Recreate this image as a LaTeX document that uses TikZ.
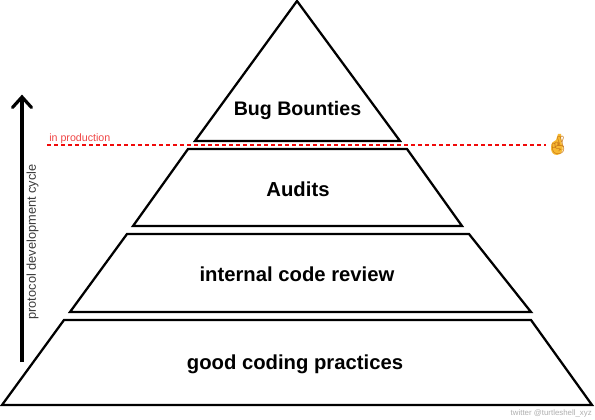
\documentclass[tikz,border=0pt]{standalone}
\usepackage{fontspec}
\setmainfont{Liberation Sans}
\newfontfamily\emojifont{Noto Emoji}
\definecolor{redline}{RGB}{240,10,10}
\definecolor{redtext}{RGB}{240,70,70}
\definecolor{goldfinger}{RGB}{247,185,50}
\definecolor{goldedge}{RGB}{205,125,25}
\definecolor{graytext}{RGB}{175,175,175}
\definecolor{axistext}{RGB}{60,60,60}
\tikzset{
  x=0.75pt,y=-0.75pt,
  tier/.style={draw=black,line width=1.7pt,line join=miter,miter limit=10},
  tierlabel/.style={inner sep=0pt,font=\fontsize{15.2}{18}\selectfont\bfseries,text=black},
  axisarrow/.style={draw=black,line width=2.4pt},
}
\begin{document}
\begin{tikzpicture}
\useasboundingbox (0,0) rectangle (595,420);
\fill[white] (0,0) rectangle (595,420);
\draw[tier] (297,1) -- (400,141) -- (195,141) -- cycle;
\draw[tier] (188,149) -- (407,149) -- (462,226) -- (133,226) -- cycle;
\draw[tier] (127,234) -- (469,234) -- (531,312) -- (70,312) -- cycle;
\draw[tier] (64,320) -- (531,320) -- (592,405) -- (2,405) -- cycle;
\node[tierlabel,font=\fontsize{14.7}{18}\selectfont\bfseries] (bug) at (297.5,110) {Bug Bounties};
\node[tierlabel] (audits) at (298,189) {Audits};
\node[tierlabel] (review) at (297,274) {internal code review};
\node[tierlabel] (practices) at (295,364) {good coding practices};
\coordinate (arrowbase) at (22,362);
\coordinate (arrowtip) at (22,97);
\draw[axisarrow] (arrowbase) -- (arrowtip);
\draw[axisarrow,line cap=round,line join=miter] (12.5,107.5) -- (arrowtip) -- (31.5,107.5);
\node[rotate=90,inner sep=0pt,font=\fontsize{9.6}{11}\selectfont,text=axistext] (cycle) at (32.5,242) {protocol development cycle};
\node[inner sep=0pt,anchor=west,font=\fontsize{8}{10}\selectfont,text=redtext] (prod) at (49,139) {in production};
\fill[goldfinger] (551,148) .. controls (551,143) and (553,141) .. (556,140) -- (558,134) -- (561,134) -- (561,142) .. controls (564,146) and (564,154) .. (557,155) .. controls (553,155) and (551,152) .. (551,148) -- cycle;
\node[inner sep=0pt,font=\emojifont\fontsize{13.5}{16}\selectfont,text=goldedge] (fingers) at (558,145) {🤞};
\coordinate (linestart) at (47,145);
\draw[redline,line width=1.3pt,dash pattern=on 3pt off 2.25pt] (linestart) -- (fingers.west);
\node[inner sep=0pt,anchor=east,font=\fontsize{5.9}{7}\selectfont,text=graytext] (credit) at (592,413) {twitter @turtleshell\_xyz};
\end{tikzpicture}
\end{document}
